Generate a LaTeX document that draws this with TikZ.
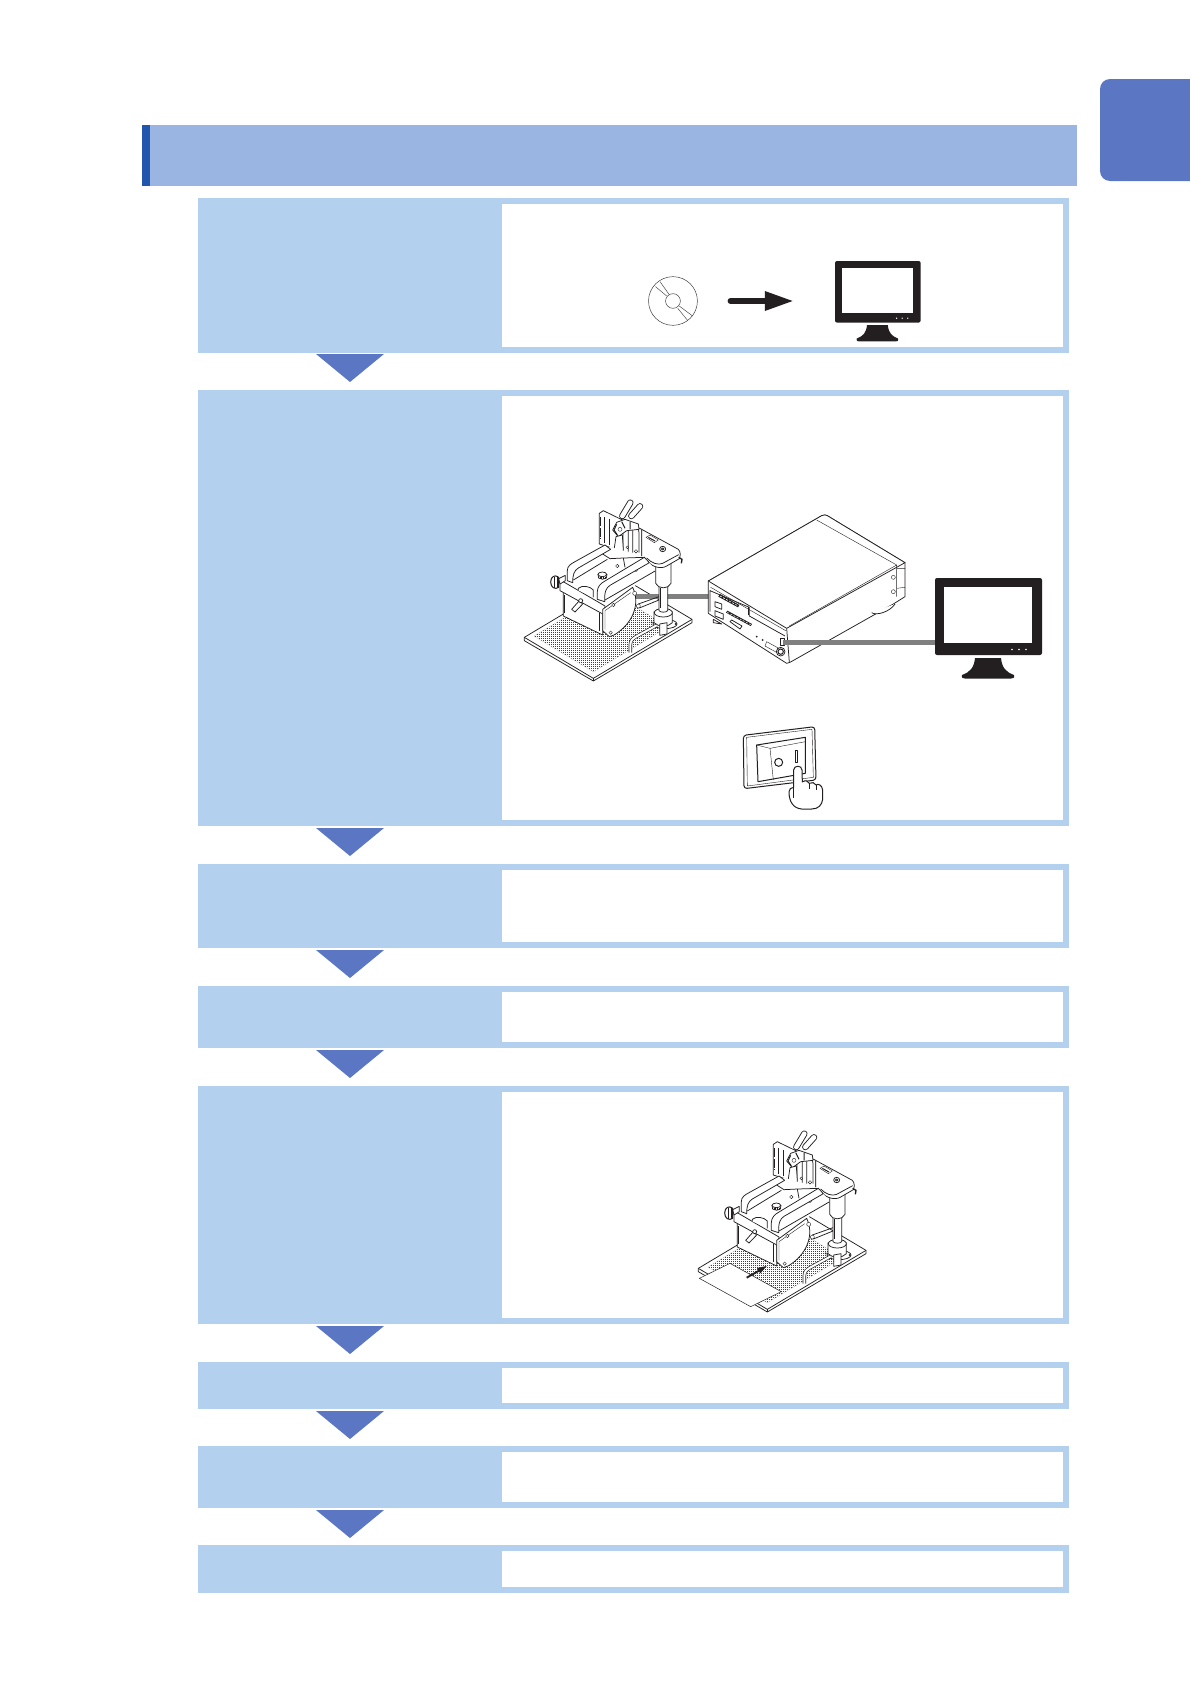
\documentclass[tikz,border=0pt]{standalone}
\definecolor{hdr}{HTML}{9BB5E2}
\definecolor{hdrdark}{HTML}{2056AC}
\definecolor{stepblue}{HTML}{B3D0EE}
\definecolor{arrowblue}{HTML}{5B77C4}
\definecolor{cablegray}{HTML}{808080}
\definecolor{ink}{HTML}{231F20}
\tikzset{
  fx/.style={draw=ink,fill=white,line width=.75pt,line join=round},
  thin line/.style={draw=ink,line width=.4pt},
  thick mark/.style={draw=ink,line width=1.3pt},
  cable/.style={draw=cablegray,line width=5.6pt},
  localz/.style={x=.33333pt,y=-.33333pt},
  handle out/.style={draw=ink,line width=6.4pt,line cap=round},
  handle in/.style={draw=white,line width=4.6pt,line cap=round},
}
% monitor, origin at top-left of the case; local unit = px of the large monitor
\newcommand{\monitorshape}{%
  \fill[ink,rounded corners=2pt] (0,0) rectangle (107,77);
  \fill[white] (9,8.5) rectangle (97,65);
  \fill[ink] (40,80) -- (66,80) .. controls (67,90) and (71,94) .. (79,97)
     .. controls (80,100) and (78,100.5) .. (76,100.5) -- (30,100.5)
     .. controls (28,100.5) and (26,100) .. (27,97)
     .. controls (35,94) and (39,90) .. (40,80) -- cycle;
  \fill[white] (77,71.5) circle (.9) (84,71.5) circle (.9) (91,71.5) circle (.9);
}
\newcommand{\pressfixture}[1]{%
  % base plate
  \path[fx] (43,472) -- (43,482) -- (250,603) -- (546,428) -- (546,418) -- (339,295) -- cycle;
  \path[fx] (43,472) -- (250,595) -- (546,418);
  \draw[thin line] (250,595) -- (250,603);
  % perforated area
  \begin{scope}
    \clip (72,468) -- (250,575) -- (475,440) -- (297,333) -- cycle;
    \fill[black!75] (60,320) rectangle (490,590);
    \foreach \x in {60,66,...,490} { \draw[white,line width=.6pt] (\x,320) -- (\x,590); }
    \foreach \y in {321,327,...,590} { \draw[white,line width=.6pt] (60,\y) -- (490,\y); }
  \end{scope}
  #1
  % column foot
  \path[fx] (465,432) circle [x radius=36,y radius=14];
  \fill[ink] (425,427) circle [radius=3] (497,432) circle [radius=3];
  % column
  \path[fx] (432,395) -- (432,428) .. controls (445,442) and (475,442) .. (487,428) -- (487,395) -- cycle;
  \path[fx] (460,398) circle [x radius=27,y radius=13];
  \path[fx] (447,318) -- (447,392) .. controls (452,398) and (468,398) .. (473,392) -- (473,318) -- cycle;
  \path[fx] (437,250) -- (437,310) .. controls (445,328) and (475,328) .. (483,310) -- (483,250) -- cycle;
  \draw[thin line] (451,325) -- (451,385);
  % loop handle
  \draw[draw=ink,line width=3.4pt,line join=round] (361,518) -- (361,495) .. controls (361,482) and (368,476) .. (378,470) -- (440,436);
  \draw[draw=white,line width=2.1pt,line join=round] (361,519) -- (361,495) .. controls (361,482) and (368,476) .. (378,470) -- (440,436);
  \path[fx] (449,432) -- (449,466) -- (471,462) -- (471,428) -- cycle;
  % back plate
  \path[fx] (268,100) -- (280,92) -- (395,148) -- (395,232) -- (268,192) -- cycle;
  \draw[ink,line width=1.1pt,dash pattern=on 9pt off 1.5pt] (271,112) -- (271,178);
  \draw[thin line] (283,112) -- (283,190) (297,118) -- (297,195);
  \path[fx] (395,148) -- (505,208) .. controls (512,215) and (512,228) .. (508,236) -- (470,258) .. controls (455,268) and (425,262) .. (412,242) -- (395,232) -- cycle;
  \draw[fx,fill=none] (410,234) .. controls (425,250) and (445,256) .. (458,250) -- (506,224);
  \draw[thick mark] (506,232) -- (516,238) -- (514,250);
  \path[fx] (458,207) circle [x radius=9,y radius=8];
  \path[fx] (458,207) circle [x radius=4,y radius=3];
  \draw[thin line] (408,172) -- (420,165) -- (445,180) -- (433,188) -- cycle;
  \draw[ink,line width=1pt] (415,172) -- (435,183);
  % handles and clamp
  \draw[handle out] (337,108) -- (361,68); \draw[handle in] (337,108) -- (361,68);
  \draw[handle out] (364,108) -- (390,79); \draw[handle in] (364,108) -- (390,79);
  \draw[fx,fill=none] (339,150) -- (339,228) (355,140) -- (355,215) (368,150) -- (368,218) (355,135) .. controls (375,128) and (387,138) .. (387,158) -- (387,218);
  \draw[thin line,fill=white] (378,214) circle [radius=5] (352,202) circle [radius=4];
  \path[fx] (308,150) -- (320,127) -- (345,118) -- (385,132) -- (387,148) -- (350,152) -- (325,170) -- cycle;
  \path[fx] (318,170) -- (312,210) -- (330,240) -- (340,210) -- (337,165) -- cycle;
  \draw[ink,line width=1pt] (320,133) -- (312,150) -- (322,165) (335,125) -- (345,145) (360,125) -- (360,148);
  \draw[thin line,fill=white] (330,148) circle [radius=6];
  % carriage: body underlay, rear rib and deck
  \path[fill=white] (190,300) -- (278,388) -- (368,322) -- (437,272) -- (405,232) -- (300,200) -- cycle;
  \draw[fx,fill=none] (285,360) -- (437,272);
  \path[fx] (172,302) -- (172,272) .. controls (172,258) and (182,252) .. (195,245) -- (285,195) -- (302,208) -- (205,264) .. controls (192,272) and (188,285) .. (188,308) -- cycle;
  \draw[fx,fill=none] (190,300) -- (292,238) (278,222) -- (300,236) -- (340,234) -- (345,262) (340,234) -- (405,232);
  \draw[thin line,fill=white] (322,258) circle [radius=5] (378,270) circle [radius=5];
  % top knob
  \path[fx] (264,283) -- (266,294) .. controls (272,299) and (283,299) .. (289,294) -- (291,283) -- cycle;
  \path[fx] (277,283) circle [x radius=13,y radius=7];
  \draw[thin line] (270,290) -- (270,297) (275,291) -- (275,298) (280,291) -- (280,298) (285,290) -- (285,297);
  % lower body
  \path[fx] (160,335) -- (160,408) -- (278,465) -- (278,385) -- cycle;
  \draw[thick mark] (163,345) -- (163,400) (268,398) -- (268,452);
  % front rib
  \path[fx] (262,358) -- (262,335) .. controls (262,320) and (272,310) .. (285,303) -- (403,232) -- (418,248) -- (300,316) .. controls (288,324) and (283,335) .. (284,365) -- cycle;
  % front bar + notch
  \path[fx] (150,310) -- (158,304) -- (285,378) -- (282,404) -- (150,332) -- cycle;
  \draw[fx] (205,331) -- (205,325) .. controls (215,315) and (240,318) .. (250,330) -- (250,352);
  \path[fx] (185,388) -- (208,362) -- (218,372) -- (195,396) -- cycle;
  \path[fx] (212,362) circle [radius=6];
  % left knob
  \path[fx] (146,296) -- (166,286) -- (166,302) -- (150,312) -- cycle;
  \path[fx,line width=1pt] (146,292) .. controls (135,282) and (122,290) .. (122,306) .. controls (122,322) and (135,330) .. (146,322) -- cycle;
  \draw[ink,line width=.6pt] (134,290) -- (134,325) (141,288) -- (141,325);
  % wheel plate
  \path[fx] (278,388) -- (368,322) .. controls (392,372) and (368,432) .. (312,465) -- (298,470) -- (278,452) -- cycle;
  \draw[thin line] (285,392) -- (285,448) (285,392) -- (362,338);
  \draw[thin line,fill=white] (310,375) circle [radius=5] (302,458) circle [radius=5] (374,340) circle [radius=6] (385,378) circle [radius=6];
  \draw[fx,fill=none] (385,372) -- (447,350) (388,384) -- (447,360);
}
\begin{document}
\begin{tikzpicture}[x=1pt,y=-1pt]
\useasboundingbox (0,0) rectangle (1191,1684);
% page tab
\fill[arrowblue,rounded corners=10pt] (1100,79) rectangle (1215,181);
\fill[white] (1190,70) rectangle (1191,190);
% header band
\fill[hdr] (142,125) rectangle (1077,186);
\fill[hdrdark] (142,125) rectangle (150,186);
% step boxes
\foreach \a/\b in {198/353,390/826,864/948,986/1048,1086/1324,1362/1409,1446/1508,1545/1593} {
  \fill[stepblue] (198,\a) rectangle (1069,\b);
  \fill[white] (502,\a+6) rectangle (1063,\b-6);
}
% flow arrows
\foreach \b in {354,828,950,1050,1326,1411,1510} {
  \fill[arrowblue] (316,\b) -- (384,\b) -- (350,\b+28) -- cycle;
}
% --- step 1: disc -> monitor
\begin{scope}[shift={(500,190)},x=.37037pt,y=-.33333pt]
  \draw[draw=black!75,line width=.5pt] (467,333) circle [x radius=66,y radius=73];
  \draw[draw=black!75,line width=.5pt] (467,333) circle [x radius=20,y radius=22];
  \draw[draw=black!75,line width=.45pt] (420,290) -- (450,318) (432,275) -- (457,314) (484,348) -- (520,378) (480,355) -- (507,392);
  \draw[ink,line width=5.6pt,line cap=round] (622,333) -- (720,333);
  \fill[ink] (715,303) -- (790,333) -- (715,363) -- cycle;
\end{scope}
\begin{scope}[shift={(835,261)},xscale=.8,yscale=.8]
  \monitorshape
\end{scope}
% --- step 2: fixture, instrument, monitor, switch
\begin{scope}[shift={(510,480)},localz]
  \pressfixture{\draw[cable] (370,350) -- (625,350);}
\end{scope}
\begin{scope}[shift={(690,500)},localz]
  % instrument body
  \path[fx] (55,243) -- (395,47) .. controls (402,43) and (408,45) .. (412,47) -- (645,188) -- (645,290) -- (610,312) -- (300,487) -- (290,490) -- (55,340) -- cycle;
  \path[fx] (55,243) -- (395,47) .. controls (402,43) and (408,45) .. (412,47) -- (645,188) -- (290,385) -- cycle;
  \draw[fx,fill=none] (290,385) -- (298,487);
  \draw[thin line] (380,60) -- (620,195) -- (298,378) (620,195) -- (620,290) (620,205) -- (645,205) (620,265) -- (645,262);
  \draw[thin line] (62,262) -- (287,392);
  \draw[thin line] (610,232) circle [radius=6] (610,275) circle [radius=6];
  \path[fx] (545,338) .. controls (560,348) and (600,335) .. (615,312);
  \path[fx] (70,358) -- (70,368) -- (95,372) -- (95,372) -- cycle;
  % front panel
  \draw[fx,fill=none] (60,270) -- (60,335) (60,272) -- (178,322) -- (178,348) -- (285,408);
  \draw[fx,fill=none] (175,322) -- (175,345);
  \fill[ink] (85,290) -- (90,282) -- (148,315) -- (144,322) -- cycle;
  \draw[white,line width=.6pt,dash pattern=on 2pt off 1.5pt] (90,288) -- (145,318);
  \path[fx] (75,305) -- (95,312) -- (95,328) -- (75,320) -- cycle;
  \path[fx] (75,332) -- (100,342) -- (100,358) -- (75,348) -- cycle;
  \fill[ink] (108,338) -- (112,332) -- (186,372) -- (182,378) -- cycle;
  \draw[white,line width=.5pt,dash pattern=on 2pt off 1.5pt] (112,337) -- (182,374);
  \path[fx] (120,365) -- (125,360) -- (156,378) -- (150,387) -- cycle;
  \fill[ink] (200,410) circle [radius=3] (218,420) circle [radius=3];
  \draw[thin line] (230,425) -- (272,448) -- (265,460) -- (225,438) -- cycle;
  \path[fx] (272,416) rectangle (284,436);
  \path[fx] (272,455) circle [radius=13];
  \draw[ink,line width=1pt] (272,455) circle [radius=8];
  % video cable
  \draw[cable] (280,428) -- (740,428);
\end{scope}
\begin{scope}[shift={(935,578)}]
  \monitorshape
\end{scope}
\begin{scope}[shift={(690,500)},localz]
  % rocker switch
  \path[fx,line width=1pt,rounded corners=3pt] (160,706) -- (374,680) -- (378,840) -- (162,866) -- cycle;
  \draw[thin line] (170,712) -- (366,688) -- (370,832) -- (172,858) -- cycle;
  \path[fx,line width=1pt] (200,735) -- (346,712) -- (346,820) -- (204,845) -- cycle;
  \draw[thin line] (240,745) -- (250,840) (200,735) -- (240,745) -- (346,725);
  \draw[ink,line width=1pt] (266,787) circle [radius=12];
  \path[fx] (316,751) rectangle (321,786);
  % hand
  \path[fx,line width=1pt] (297,875) .. controls (297,868) and (303,862) .. (311,862) -- (311,810) .. controls (311,795) and (336,795) .. (336,810) -- (337,846) .. controls (345,840) and (355,842) .. (358,850) .. controls (365,845) and (375,848) .. (378,855) .. controls (385,850) and (396,855) .. (398,870) -- (398,898) .. controls (396,915) and (385,927) .. (365,927) -- (335,927) .. controls (310,925) and (297,905) .. (297,875) -- cycle;
  \draw[fx,fill=none] (358,850) -- (358,868) (378,855) -- (378,870) (311,862) -- (311,895);
\end{scope}
% --- step 5: fixture with paper
\begin{scope}[shift={(684,1111)},localz]
  \pressfixture{\path[fx,line width=.5pt] (46,502) -- (138,457) -- (292,542) -- (200,587) -- cycle;}
  \draw[ink,line width=1.9pt] (188,500) -- (225,479);
  \fill[ink] (248,465) -- (219,471) -- (229,487) -- cycle;
\end{scope}
\end{tikzpicture}
\end{document}
